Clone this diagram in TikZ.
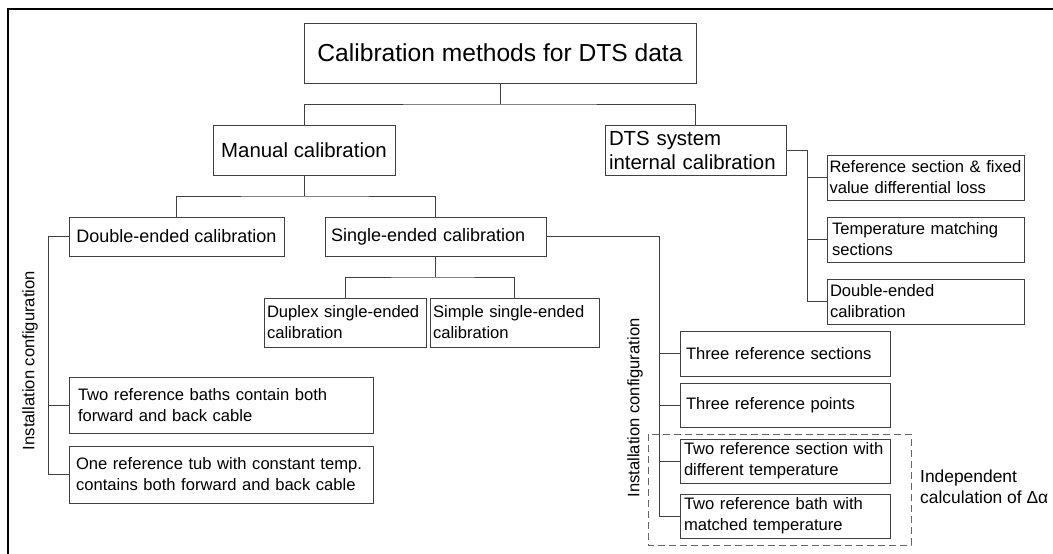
\documentclass[tikz,border=0pt]{standalone}
\usepackage{fontspec}
\setmainfont{Liberation Sans}

\newcommand{\titlefs}{\fontsize{24.6}{30}\selectfont}
\newcommand{\midfs}{\fontsize{20.4}{24}\selectfont}
\newcommand{\secfs}{\fontsize{18}{22}\selectfont}
\newcommand{\smallfs}{\fontsize{16.6}{21}\selectfont}
\newcommand{\notefs}{\fontsize{17.4}{21}\selectfont}

\tikzset{
  box/.style={draw=black!75, line width=1pt, inner ysep=0pt, outer sep=0pt},
  lbox/.style={box, align=left},
  line/.style={draw=black!75, line width=1pt},
}

\begin{document}
\begin{tikzpicture}[x=1pt, y=-1pt, font=\smallfs]
        \useasboundingbox (0,0) rectangle (1053,554);
        \draw[line, draw=black, line width=1.3pt] (8,554) -- (8,9) -- (1053,9);

        % top levels
        \node[box, minimum width=392, minimum height=60, font=\titlefs] (title) at (500,53) {Calibration methods for DTS data};
        \node[box, minimum width=182, minimum height=50, font=\midfs] (manual) at (304,150) {Manual calibration};
        \node[lbox, text width=173, inner xsep=4, minimum height=50, font=\midfs] (dts) at (695.5,150) {DTS system\\internal calibration};

        \node[lbox, text width=192, inner xsep=2.5, minimum height=45] (refsec) at (925.5,177.5) {Reference section \& fixed\\value differential loss};
        \node[lbox, text width=187, inner xsep=5, minimum height=45] (tempmatch) at (925.5,239.5) {Temperature matching\\sections};
        \node[lbox, text width=191, inner xsep=3, minimum height=45] (dtsdouble) at (925.5,301.5) {Double-ended\\calibration};

        \node[box, minimum width=215, minimum height=39, font=\secfs] (double) at (176.5,236.5) {Double-ended calibration};
        \node[lbox, text width=209, inner xsep=6, minimum height=39, font=\secfs] (single) at (435.5,236.5) {Single-ended calibration};

        \node[lbox, text width=156, inner xsep=3, minimum height=49] (duplex) at (345,322.5) {Duplex single-ended\\calibration};
        \node[lbox, text width=163, inner xsep=3, minimum height=49] (simple) at (514.5,322.5) {Simple single-ended\\calibration};

        % installation configurations
        \node[lbox, text width=286, inner xsep=9, minimum height=56] (baths) at (221,405) {Two reference baths contain both\\forward and back cable};
        \node[lbox, text width=290, inner xsep=7, minimum height=57] (tub) at (221,474.5) {One reference tub with constant temp.\\contains both forward and back cable};

        \node[lbox, text width=198, inner xsep=6, minimum height=45] (threesec) at (785,353.5) {Three reference sections};
        \node[lbox, text width=198, inner xsep=6, minimum height=44] (threepts) at (785,405) {Three reference points};
        \node[lbox, text width=202, inner xsep=4, minimum height=44] (twosec) at (785,461) {Two reference section with\\different temperature};
        \node[lbox, text width=202, inner xsep=4, minimum height=44] (twobath) at (785,516) {Two reference bath with\\matched temperature};

        \draw[line, draw=black!60, dash pattern=on 7pt off 4pt] (648,434) rectangle (911,545);

        \node[rotate=90] (cfgL) at (30,360.5) {Installation configuration};
        \node[rotate=90] (cfgR) at (635,408) {Installation configuration};
        \node[align=left, anchor=west, inner sep=0pt, font=\notefs] (indep) at (920,487) {Independent\\calculation of Δα};

        % connectors
        \coordinate (j1) at (500,104);
        \draw[line] (title.south) -- (j1);
        \draw[line] (manual.north) |- (j1) -| (dts.north);

        \coordinate (j2) at (304,196);
        \draw[line] (manual.south) -- (j2);
        \draw[line] (double.north) |- (j2) -| (single.north);

        \coordinate (j3) at (435.5,277);
        \draw[line] (single.south) -- (j3);
        \draw[line] (duplex.north) |- (j3) -| (simple.north);

        \coordinate (busL) at (48,0);
        \draw[line] (double.west) -| (busL |- tub.west) -- (tub.west);
        \draw[line] (busL |- baths.west) -- (baths.west);

        \coordinate (busR) at (659,0);
        \draw[line] (single.east) -| (busR |- twobath.west) -- (twobath.west);
        \foreach \n in {threesec, threepts, twosec}
            \draw[line] (busR |- \n.west) -- (\n.west);

        \coordinate (busD) at (807,0);
        \draw[line] (dts.east) -| (busD |- dtsdouble.west) -- (dtsdouble.west);
        \foreach \n in {refsec, tempmatch}
            \draw[line] (busD |- \n.west) -- (\n.west);
\end{tikzpicture}
\end{document}
